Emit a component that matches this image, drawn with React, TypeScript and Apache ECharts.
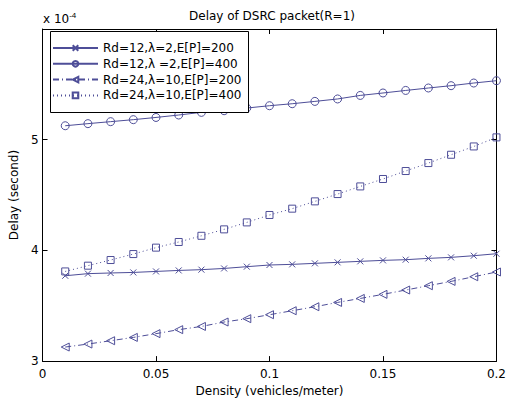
import React, { useEffect, useRef } from "react";
import * as echarts from "echarts";

const xValues = [0.01, 0.02, 0.03, 0.04, 0.05, 0.06, 0.07, 0.08, 0.09, 0.1, 0.11, 0.12, 0.13, 0.14, 0.15, 0.16, 0.17, 0.18, 0.19, 0.2];
const seriesNames = [
  "Rd=12,λ=2,E[P]=200",
  "Rd=12,λ =2,E[P]=400",
  "Rd=24,λ=10,E[P]=200",
  "Rd=24,λ=10,E[P]=400",
];
const s1 = [3.771, 3.79, 3.796, 3.801, 3.81, 3.819, 3.826, 3.837, 3.853, 3.868, 3.874, 3.883, 3.892, 3.901, 3.91, 3.916, 3.928, 3.937, 3.952, 3.97];
const s2 = [5.126, 5.145, 5.163, 5.181, 5.201, 5.223, 5.247, 5.262, 5.286, 5.307, 5.325, 5.346, 5.368, 5.4, 5.422, 5.445, 5.467, 5.488, 5.512, 5.533];
const s3 = [3.127, 3.154, 3.184, 3.214, 3.248, 3.284, 3.313, 3.353, 3.383, 3.419, 3.455, 3.491, 3.53, 3.566, 3.603, 3.642, 3.681, 3.72, 3.762, 3.805];
const s4 = [3.81, 3.862, 3.913, 3.967, 4.025, 4.076, 4.132, 4.19, 4.253, 4.32, 4.377, 4.443, 4.509, 4.578, 4.645, 4.717, 4.789, 4.864, 4.939, 5.021];
const yTicks = [3, 4, 5];

const COLOR = "#4e4e98";
const FONT = "'DejaVu Sans', sans-serif";
const FS = 12;

export default function App() {
  const ref = useRef<HTMLDivElement>(null);
  useEffect(() => {
    if (!ref.current) return;
    const chart = echarts.init(ref.current, null, { renderer: "svg" });
    const mk = (name: string, vals: number[], symbol: string, size: number, type: any) => ({
      name,
      type: "line",
      data: xValues.map((x, i) => [x, vals[i]]),
      symbol,
      symbolSize: size,
      showAllSymbol: true,
      lineStyle: { color: COLOR, width: 1, type },
      itemStyle: { color: "rgba(255,255,255,0)", borderColor: COLOR, borderWidth: 1 },
      emphasis: { disabled: true },
    });
    const axisCommon = {
      axisLine: { show: true, onZero: false, lineStyle: { color: "#000", width: 1 } },
      axisTick: { show: true, inside: true, length: 5, lineStyle: { color: "#000" } },
      splitLine: { show: false },
    };
    chart.setOption({
      animation: false,
      backgroundColor: "#fff",
      textStyle: { fontFamily: FONT },
      title: {
        text: "Delay of DSRC packet(R=1)",
        left: 272,
        textAlign: "center",
        top: 10,
        padding: 0,
        textStyle: { fontSize: FS, fontWeight: "normal", color: "#000", fontFamily: FONT },
      },
      graphic: [
        {
          type: "text",
          left: 43,
          top: 11,
          style: {
            text: "x 10{s|-4}",
            font: `${FS}px ${FONT}`,
            fill: "#000",
            rich: { s: { fontSize: 8, verticalAlign: "top", padding: [0, 0, 7, 0] } },
          },
        },
        {
          type: "rect",
          z: 10,
          shape: { x: 50.5, y: 31.5, width: 198, height: 81 },
          style: { fill: "#fff", stroke: "#000", lineWidth: 1 },
        },
      ],
      legend: {
        orient: "vertical",
        left: 52,
        top: 41,
        padding: 0,
        itemWidth: 45,
        itemHeight: 7,
        itemGap: 1.8,
        z: 12,
        data: seriesNames,
        textStyle: { fontSize: FS, color: "#000", fontFamily: FONT, lineHeight: 14 },
      },
      grid: { left: 42, right: 8, top: 29, bottom: 40, containLabel: false },
      xAxis: [
        {
          type: "value",
          min: 0,
          max: 0.2,
          interval: 0.05,
          ...axisCommon,
          axisLabel: { color: "#000", fontSize: FS, margin: 7, fontFamily: FONT },
          name: "Density (vehicles/meter)",
          nameLocation: "middle",
          nameGap: 20,
          nameTextStyle: { color: "#000", fontSize: FS, fontFamily: FONT },
        },
        {
          type: "value",
          position: "top",
          min: 0,
          max: 0.2,
          interval: 0.05,
          ...axisCommon,
          axisLabel: { show: false },
        },
      ],
      yAxis: [
        {
          type: "value",
          min: 3,
          max: 6,
          interval: 1,
          ...axisCommon,
          axisLabel: {
            color: "#000",
            fontSize: FS,
            margin: 4,
            fontFamily: FONT,
            formatter: (v: number) => (yTicks.includes(v) ? String(v) : ""),
          },
          name: "Delay (second)",
          nameLocation: "middle",
          nameGap: 20,
          nameTextStyle: { color: "#000", fontSize: FS, fontFamily: FONT },
        },
        {
          type: "value",
          position: "right",
          min: 3,
          max: 6,
          interval: 1,
          ...axisCommon,
          axisLabel: { show: false },
        },
      ],
      series: [
        mk(seriesNames[0], s1, "path://M0,0L10,10M10,0L0,10", 6, "solid"),
        mk(seriesNames[1], s2, "circle", 8, "solid"),
        mk(seriesNames[2], s3, "path://M0,5L10,0L10,10Z", 8, [6, 3, 1, 3]),
        mk(seriesNames[3], s4, "rect", 7, [1, 3]),
      ],
    });
    return () => chart.dispose();
  }, []);
  return <div ref={ref} style={{ width: 509, height: 402, position: "absolute", left: 0, top: 0 }} />;
}
